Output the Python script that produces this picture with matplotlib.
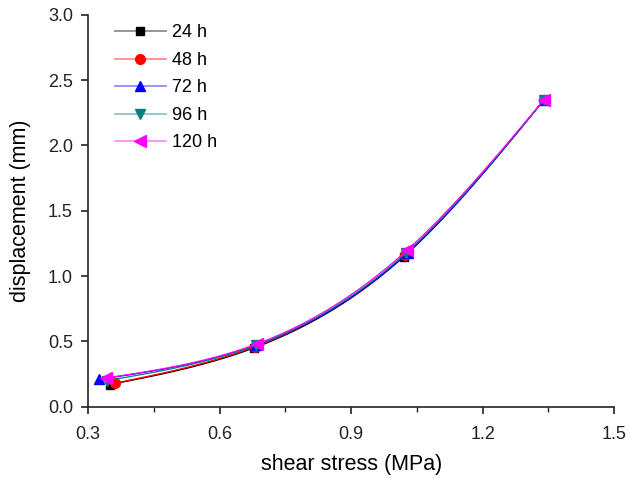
import numpy as np
import matplotlib.pyplot as plt
from matplotlib.ticker import MultipleLocator
from matplotlib.lines import Line2D

plt.rcParams['font.family'] = ['Liberation Sans', 'DejaVu Sans']

# data
labels = ['24 h', '48 h', '72 h', '96 h', '120 h']
x_24 = [0.350, 0.678, 1.020, 1.340]
y_24 = [0.17, 0.45, 1.15, 2.35]
x_48 = [0.360, 0.680, 1.022, 1.340]
y_48 = [0.18, 0.46, 1.16, 2.35]
x_72 = [0.325, 0.682, 1.030, 1.340]
y_72 = [0.21, 0.47, 1.18, 2.35]
x_96 = [0.342, 0.682, 1.026, 1.340]
y_96 = [0.20, 0.47, 1.18, 2.35]
x_120 = [0.340, 0.684, 1.028, 1.340]
y_120 = [0.22, 0.48, 1.20, 2.35]

xs = [x_24, x_48, x_72, x_96, x_120]
ys = [y_24, y_48, y_72, y_96, y_120]
colors = ['black', 'red', 'blue', '#008080', 'magenta']
markers = ['s', 'o', '^', 'v', '<']
msizes = [6, 7, 7.5, 7.5, 8]


def spline(x, y, n=200):
    # natural cubic spline, only for drawing the smooth connecting line
    x = np.asarray(x, float)
    y = np.asarray(y, float)
    k = len(x)
    h = np.diff(x)
    A = np.zeros((k, k))
    b = np.zeros(k)
    A[0, 0] = A[-1, -1] = 1
    for i in range(1, k - 1):
        A[i, i - 1] = h[i - 1]
        A[i, i] = 2 * (h[i - 1] + h[i])
        A[i, i + 1] = h[i]
        b[i] = 6 * ((y[i + 1] - y[i]) / h[i] - (y[i] - y[i - 1]) / h[i - 1])
    M = np.linalg.solve(A, b)
    xx = np.linspace(x[0], x[-1], n)
    idx = np.clip(np.searchsorted(x, xx) - 1, 0, k - 2)
    x0, x1 = x[idx], x[idx + 1]
    hh = x1 - x0
    yy = (M[idx] * (x1 - xx) ** 3 / (6 * hh) + M[idx + 1] * (xx - x0) ** 3 / (6 * hh)
          + (y[idx] / hh - M[idx] * hh / 6) * (x1 - xx)
          + (y[idx + 1] / hh - M[idx + 1] * hh / 6) * (xx - x0))
    return xx, yy


fig = plt.figure(figsize=(6.3, 4.78), dpi=100)
ax = fig.add_axes([0.14, 0.149, 0.835, 0.82])

handles = []
for x, y, c, m, ms in zip(xs, ys, colors, markers, msizes):
    sx, sy = spline(x, y)
    ax.plot(sx, sy, color=c, lw=0.9)
    ax.plot(x, y, ls='none', marker=m, color=c, ms=ms)
    # legend: pale line + solid marker
    ln = Line2D([], [], color=c, lw=1.3, alpha=0.45)
    mk = Line2D([], [], ls='none', marker=m, color=c, ms=ms)
    handles.append((ln, mk))

ax.set_xlim(0.3, 1.5)
ax.set_ylim(0.0, 3.0)
ax.xaxis.set_major_locator(MultipleLocator(0.3))
ax.xaxis.set_minor_locator(MultipleLocator(0.15))
ax.yaxis.set_major_locator(MultipleLocator(0.5))
ax.xaxis.set_major_formatter(plt.FuncFormatter(lambda v, p: f'{v:.1f}'))
ax.yaxis.set_major_formatter(plt.FuncFormatter(lambda v, p: f'{v:.1f}'))

for s in ['top', 'right']:
    ax.spines[s].set_visible(False)
for s in ['left', 'bottom']:
    ax.spines[s].set_linewidth(1.2)
    ax.spines[s].set_color('#222222')

ax.tick_params(which='major', direction='out', length=5, width=1.2,
               labelsize=13, colors='#222222')
ax.tick_params(axis='x', which='major', pad=9)
ax.tick_params(axis='y', which='major', pad=6)
ax.tick_params(which='minor', direction='out', length=3.5, width=1.0, colors='#222222')

ax.set_xlabel('shear stress (MPa)', fontsize=15.5, labelpad=8)
ax.set_ylabel('displacement (mm)', fontsize=15.5, labelpad=12)

ax.legend(handles, labels, loc='upper left', bbox_to_anchor=(0.02, 1.017), frameon=False,
          fontsize=13, handlelength=2.8, labelspacing=0.58, handletextpad=0.35)

fig.savefig('out.png', dpi=100)
